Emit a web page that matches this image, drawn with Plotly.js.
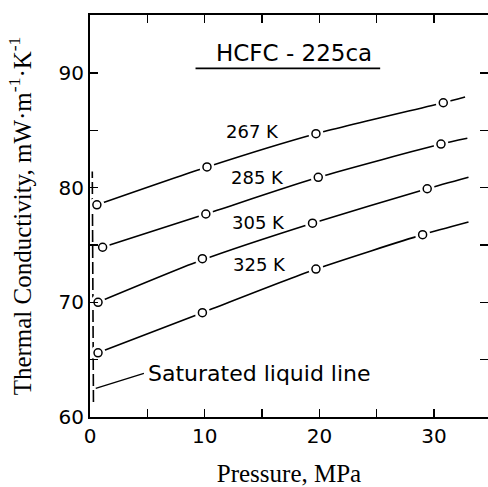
<!DOCTYPE html>
<html>
<head>
<meta charset="utf-8">
<script src="https://cdn.plot.ly/plotly-3.0.1.min.js"></script>
<style>html,body{margin:0;padding:0;background:#fff;}</style>
</head>
<body>
<div id="chart" style="width:488px;height:487px;"></div>
<script>
// Measured points (pressure in MPa, thermal conductivity in mW/(m K))
var pressure267 = [0.6, 10.2, 19.7, 30.8];
var k267 = [78.5, 81.8, 84.7, 87.4];
var pressure285 = [1.1, 10.1, 19.9, 30.6];
var k285 = [74.8, 77.7, 80.9, 83.8];
var pressure305 = [0.7, 9.8, 19.4, 29.4];
var k305 = [70.0, 73.8, 76.9, 79.9];
var pressure325 = [0.7, 9.8, 19.7, 29.0];
var k325 = [65.6, 69.1, 72.9, 75.9];

// Smoothed isotherm curves
var curveP267 = [0.6, 10.2, 19.7, 30.8, 32.7];
var curveK267 = [78.5, 81.8, 84.7, 87.4, 87.9];
var curveP285 = [1.1, 10.1, 19.9, 30.6, 32.9];
var curveK285 = [74.8, 77.7, 80.9, 83.8, 84.3];
var curveP305 = [0.7, 9.8, 19.4, 29.4, 33.0];
var curveK305 = [70.0, 73.7, 76.9, 79.9, 80.9];
var curveP325 = [0.7, 9.8, 19.7, 29.0, 33.0];
var curveK325 = [65.6, 69.1, 72.9, 75.9, 77.0];

// Saturated liquid line and its leader
var satP = [0.3, 0.2];
var satK = [61.3, 81.4];
var leaderP = [0.5, 4.7];
var leaderK = [62.5, 63.8];

var isothermLabels = ['267 K', '285 K', '305 K', '325 K'];
var labelP = [14.2, 14.6, 14.7, 14.8];
var labelK = [84.9, 80.9, 77.0, 73.3];

var titleText = 'HCFC - 225ca';
var titleP = 17.8, titleK = 91.7;
var underlineP = [9.2, 25.3];
var underlineK = [90.4, 90.4];

var xTickVals = [0, 10, 20, 30];
var xTickText = ['0', '10', '20', '30'];
var yTickVals = [60, 70, 80, 90];
var yTickText = ['60', '70', '80', '90'];
var minorStep = 5;

var sans = 'DejaVu Sans, sans-serif';
var serif = 'Liberation Serif, Times New Roman, serif';

var traces = [];
var curves = [[curveP267, curveK267], [curveP285, curveK285], [curveP305, curveK305], [curveP325, curveK325]];
curves.forEach(function (c) {
  traces.push({x: c[0], y: c[1], mode: 'lines', line: {color: '#000', width: 1.6, shape: 'spline', smoothing: 0.6}, hoverinfo: 'skip', showlegend: false});
});
traces.push({x: satP, y: satK, mode: 'lines', line: {color: '#000', width: 1.6, dash: '12px,4px'}, showlegend: false, hoverinfo: 'skip'});
traces.push({x: leaderP, y: leaderK, mode: 'lines', line: {color: '#000', width: 1.3}, showlegend: false, hoverinfo: 'skip'});
traces.push({x: underlineP, y: underlineK, mode: 'lines', line: {color: '#000', width: 1.6}, showlegend: false, hoverinfo: 'skip'});

var pts = [[pressure267, k267], [pressure285, k285], [pressure305, k305], [pressure325, k325]];
pts.forEach(function (p) {
  traces.push({x: p[0], y: p[1], mode: 'markers', marker: {symbol: 'circle', size: 15, color: '#fff', line: {width: 0}}, showlegend: false, hoverinfo: 'skip'});
});
pts.forEach(function (p, i) {
  traces.push({x: p[0], y: p[1], mode: 'markers', name: isothermLabels[i], marker: {symbol: 'circle-open', size: 8, color: '#000', line: {width: 1.5, color: '#000'}}, showlegend: false});
});

var annotations = isothermLabels.map(function (t, i) {
  return {x: labelP[i], y: labelK[i], xref: 'x', yref: 'y', text: t, showarrow: false, font: {family: sans, size: 18, color: '#000'}};
});
annotations.push({x: titleP, y: titleK, xref: 'x', yref: 'y', text: titleText, showarrow: false, font: {family: sans, size: 23, color: '#000'}});
annotations.push({x: 4.9, y: 63.8, xref: 'x', yref: 'y', xanchor: 'left', text: 'Saturated liquid line', showarrow: false, font: {family: sans, size: 22, color: '#000'}});

var layout = {
  width: 488, height: 487,
  margin: {l: 90, r: 0, t: 15, b: 70, pad: 0},
  paper_bgcolor: '#fff', plot_bgcolor: '#fff',
  showlegend: false,
  xaxis: {
    range: [0, 34.7], tickvals: xTickVals, ticktext: xTickText,
    ticks: 'inside', ticklen: 8, tickwidth: 1.5, tickcolor: '#000',
    minor: {dtick: minorStep, tick0: 0, ticks: 'inside', ticklen: 8, tickwidth: 1.5, tickcolor: '#000', showgrid: false},
    showline: true, linewidth: 2, linecolor: '#000', mirror: 'ticks',
    showgrid: false, zeroline: false,
    tickfont: {family: sans, size: 20, color: '#000'},
    title: {text: 'Pressure, MPa', font: {family: serif, size: 25, color: '#000'}, standoff: 20}
  },
  yaxis: {
    range: [60, 95.05], tickvals: yTickVals, ticktext: yTickText,
    ticks: 'inside', ticklen: 8, tickwidth: 1.5, tickcolor: '#000',
    minor: {dtick: minorStep, tick0: 60, ticks: 'inside', ticklen: 8, tickwidth: 1.5, tickcolor: '#000', showgrid: false},
    showline: true, linewidth: 2, linecolor: '#000', mirror: 'ticks',
    showgrid: false, zeroline: false,
    tickfont: {family: sans, size: 20, color: '#000'},
    title: {text: 'Thermal Conductivity, mW·m<sup>-1</sup>·K<sup>-1</sup>', font: {family: serif, size: 25, color: '#000'}, standoff: 20}
  },
  annotations: annotations
};

Plotly.newPlot('chart', traces, layout, {displayModeBar: false, staticPlot: true});
</script>
</body>
</html>
